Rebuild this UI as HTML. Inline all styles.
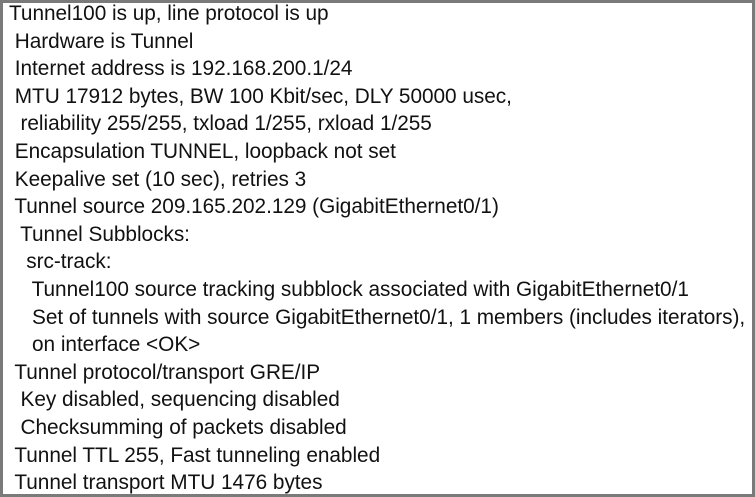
<!DOCTYPE html>
<html><head><style>
html,body{margin:0;padding:0;background:#fff;}
.box{position:absolute;left:0;top:0;width:749px;height:491px;border:3px solid #7a7a7a;background:#fff;overflow:hidden;}
pre{margin:0;position:absolute;left:6px;top:-3px;font-family:"Liberation Sans",Arial,sans-serif;font-size:20.8px;line-height:27.6px;color:#111;white-space:pre;letter-spacing:-0.03px;}
</style></head><body>
<div class="box"><pre>Tunnel100 is up, line protocol is up
 Hardware is Tunnel
 Internet address is 192.168.200.1/24
 MTU 17912 bytes, BW 100 Kbit/sec, DLY 50000 usec,
  reliability 255/255, txload 1/255, rxload 1/255
 Encapsulation TUNNEL, loopback not set
 Keepalive set (10 sec), retries 3
 Tunnel source 209.165.202.129 (GigabitEthernet0/1)
  Tunnel Subblocks:
   src-track:
    Tunnel100 source tracking subblock associated with GigabitEthernet0/1
    Set of tunnels with source GigabitEthernet0/1, 1 members (includes iterators),
    on interface &lt;OK&gt;
 Tunnel protocol/transport GRE/IP
  Key disabled, sequencing disabled
  Checksumming of packets disabled
 Tunnel TTL 255, Fast tunneling enabled
 Tunnel transport MTU 1476 bytes</pre></div>
</body></html>
